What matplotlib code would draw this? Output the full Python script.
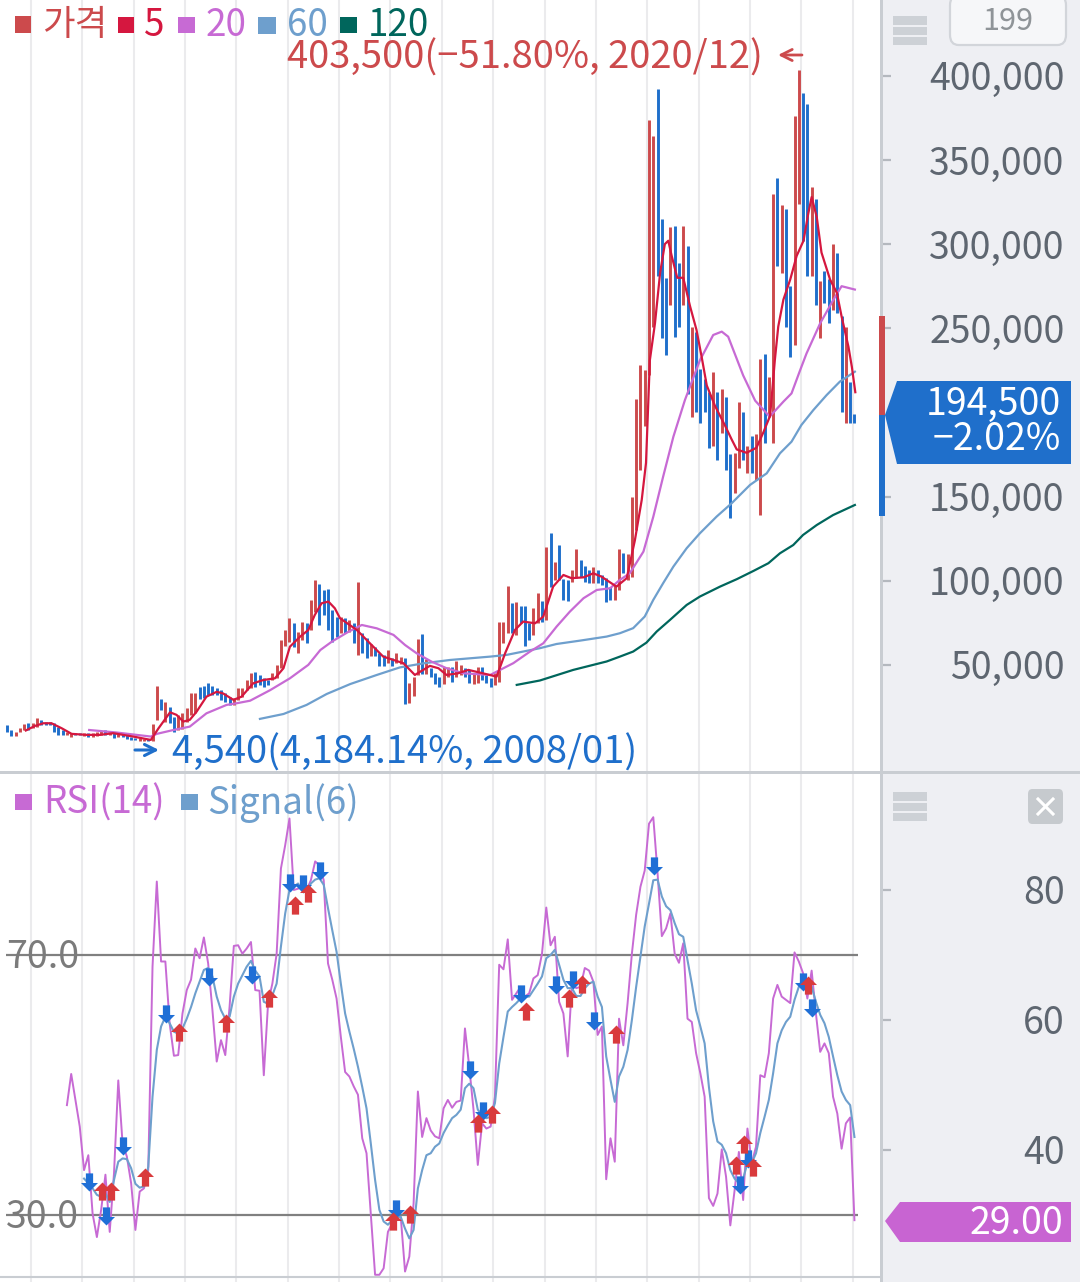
import matplotlib
matplotlib.use("Agg")
import matplotlib.pyplot as plt
from matplotlib.patches import Rectangle, Polygon, FancyBboxPatch
from matplotlib.path import Path
from matplotlib.ticker import FuncFormatter
from matplotlib.transforms import ScaledTranslation
import numpy as np

plt.rcParams['font.family'] = ['Noto Sans CJK KR', 'DejaVu Sans']

W, H = 1080, 1282

# monthly candles, thousand won
highs = [14.3,11,10.3,12.3,14.9,15.3,15.7,18.3,17.3,16.3,
         16.3,15.7,13.3,11,10.3,9.8,9.8,9.4,9.4,9.4,
         9.8,10.3,10.7,11,9.8,9.4,9.4,9.4,8.4,7.4,
         6.8,6.8,6.2,6.2,14.7,37.5,30,28.2,25.2,19.3,
         20.3,21.2,24.2,33.1,33.5,36.7,37.5,39,37.5,36,
         35,33.1,31.1,30.2,36,36,41,45,46,44,
         42,41,45,50,64.8,71,77.7,74.7,69.7,75.7,
         74.7,88.6,100.4,98,94.5,95,82.6,78.7,78.7,77.7,
         76.7,74.7,99,68.8,65.8,62.4,60.4,56.9,55.9,58.9,
         53.9,57.3,54.9,53.9,39,43,65.2,68.2,53.3,48,
         45.4,43,49,49,49,52,50,48,47,45,
         48.6,48.6,44,42,45,75.7,75.7,96.9,86.6,87.6,
         85,85,74.7,83.6,92.9,88.2,120.3,128.6,111.4,121.3,
         100.9,100.5,106.4,118.7,112.3,108.8,106.4,108.4,106.4,103.4,
         101.5,96.5,97.5,118.7,116.3,116,150,208,228,225,
         374,364,392,315,280,310,311,289,311,299,
         251,248,226,220,212,224,212,214,209,175,
         176,206,200,180,186,187,232,235,221,330,
         339,323,321,275,376,403.5,390,383,334,327,
         278,284,279,300,295,257,251,218,199]
lows = [10.3,7.8,8,10.3,11,11,12.3,13.3,14.3,14.3,
        14.3,10.3,8.4,8.4,8.4,7,8.4,8.2,7.8,7.4,
        7.4,7.8,8.2,8.4,8.2,6.4,7,7.4,6,5.4,
        5.2,5,5,4.8,4.54,17.3,23.2,16.3,15.3,10.3,
        11.3,11.9,16.3,20.3,21.6,29.6,30.2,32.1,32.1,32.1,
        29.2,28.2,26.2,26.2,29.2,30.7,35.1,36,37.1,38.1,
        37.1,38.1,41,42,48,61.2,63.8,60.8,56.9,64.8,
        62.8,70.7,81.6,73.7,79.7,70.7,63.8,66.8,68.8,68.8,
        69.8,62.8,56,56.9,53.9,55.3,55.3,49.4,49.4,51,
        49.4,51,50.6,26.6,27.6,31.2,44,44.6,44.6,42.6,
        38.7,37.1,38.7,43,40,43,44,43,39.5,38.7,
        39,41,39,37.1,38,40,62.8,68.8,68.8,67.8,
        74.7,61.3,64.8,67.8,74.7,75.7,76.7,96.5,100.5,100.5,
        88.6,88,99.5,101.5,102.4,99.5,98.5,98.5,98.5,97.5,
        87.6,88.6,88.6,94.5,104.4,100.5,102,130,166,192,
        222,251,281,244,234,264,245,251,264,211,
        197,200,194,200,179,180,172,188,166,137,
        152,167,172,164,164,160,139,182,197,182,
        287,283,251,233,240,324,302,281,281,264,
        244,265,253,261,259,200,194,194,194]
candle_dir = ("dduuuduudd" "dddduuddud" "uuudududdd" "duuduududd" "uuuuuddddd"
              "ddduuuuudd" "dduuuuuduu" "duudddddud" "ududdudddu" "duuduuudud"
              "dduuduuddu" "uddduuuudu" "ddduududud" "dduudddudd" "dduuduuuuu"
              "uuddduddud" "uddddududd" "uududuuduu" "dudduuddud" "udduddudd")

ma5_x = [4.4,6.5,8.5,10.4,12.8,15.1,18.6,21.7,24.8,29.5,33.6,35.4,38.1,39.6,41.2,42.7,44.3,46.6,49,50.5,
         52.9,54.8,57.5,59.9,62.6,64.6,66.1,68.5,70.4,71.9,73.5,75.1,76.6,77.8,81.7,84.8,87.9,92.6,95.3,98.8,
         100.8,102.7,105.4,107.8,110.5,114.4,116.4,118.7,120.6,123.4,125.3,127.6,130,131.9,134.7,137,138.9,142.4,144.8,146.7,
         148.3,149.3,150.2,151.4,152.6,153.7,154.5,155.3,156.6,158,159.6,161.1,162.3,163.5,165.4,167.8,169.3,170.5,172.8,175.1,
         176.7,178.3,179.4,180.2,181.4,183,184.5,186.1,187.2,188,189.2,190.3,192.3,193.9,195,196.6,197.4,198.2]
ma5_y = [11,13.7,15.3,15.3,12.3,9,8.4,8.4,9.4,7.4,5.4,12.3,21.8,20.3,16.3,17.3,22.2,31.1,34,33,
         29.2,31.1,39,41,42,48,60.8,66.8,70.7,79.6,86.6,87.6,83.6,77.7,70.8,62.8,54.9,51,44,49.4,
         48,44,45,47,45.4,43,57,70.8,75.7,74.7,78.7,96.5,103.4,101.5,102,104.4,102.4,96.5,101.5,124,
         148,170,231,253,283,300,302,293,280,280,263,249,233,216,204,192,184,178,176,179,
         188,198,231,251,267,279,293,302,318,328,316,295,279,271,257,239,227,212]

ma20_x = [19.2,25.6,33.6,35,38.9,42.7,46.6,51.3,53.7,56.8,61.5,66.1,70.4,73.2,75.9,79.8,82.9,86.4,90.3,93,
          95.7,99.2,102.7,106.6,112.9,118.3,122.2,125.3,128.4,131.5,134.7,137.8,140.9,143.2,145.5,148.7,151,153.3,155.7,158.4,
          161.9,165,167,168.5,172,174.8,178.2,181.4,183.3,185.3,186.8,190,193.1,195,198.1]
ma20_y = [11.3,9.8,7.4,9,11.3,13.3,21.2,26.2,27.2,28.7,35,42,50,58.8,63.8,69.7,73.7,71.7,67.8,61.8,
          56.9,51.9,48,45,44,51,57.9,62.8,72.7,81.6,89.6,94.5,95.5,100.5,104.4,117.3,138,161.8,185.6,207.4,
          231,246,248,245,222,207,197.5,206.4,211.3,225,235,253,267,275,273]

ma60_x = [59.1,64.6,70,74.7,80.2,86.4,91.8,97.3,103.5,112.9,116.7,124.5,128.4,133.9,140.1,143.2,146.3,149,151,153.3,
          155.7,158.8,161.9,165.8,169.3,173.6,177.5,180.6,183.3,185.6,188.4,191.5,194.6,198.1]
ma60_y = [17.9,20.8,26.2,32.7,38.6,44,48.5,50.9,52.9,54.9,55.9,59.9,62.4,64.4,66.8,68.8,71.8,78.7,88.6,98.5,
          108.4,119.3,128.2,138.1,146,156.9,163.8,175.7,182.6,192.5,201.4,210.3,218.3,224.2]

ma120_x = [119.1,124.5,132.3,140.1,143.2,146.3,149.4,151.8,154.9,158.8,161.9,166.6,170.5,174.4,177.9,180.6,183.7,186,189.2,193,198.1]
ma120_y = [38.1,40.7,47,52,54.9,57.9,63.2,69.8,76.7,85.6,90.6,96.5,100.9,105.8,110.4,116.3,121.2,127.2,133.1,139,145]

# RSI(14) from candle 14, signal(6) from candle 18
rsi = [46.9,51.7,47.7,43.6,36.9,39.2,30.2,26.6,30.8,36.2,27.4,36.4,50.7,41,39,34.9,27.7,33.6,34.1,36.9,
       68.2,81.3,69,69,59.5,54.5,54.6,61,64.6,66.2,71,69.5,72.7,68.7,61.5,53.6,56.9,54.6,62,71.4,
       71.5,70.2,71,72,64.6,64.5,51.5,62.6,65.6,70.2,83.3,86.9,91,80,80.2,80.5,80,81.5,84.4,83.8,
       81.5,68.7,66.2,63.3,57.4,52,51.3,49.8,48.5,41.8,39.5,30.2,20.8,20.8,21.8,27.4,28.7,29.7,29.7,21.3,
       23.6,31.8,49,42,44.9,43,42.1,41.8,46.4,47.7,46.5,47.4,47.6,58.7,52.8,46.2,37.7,44.1,43.3,43.6,
       48.2,68.5,67.8,72.4,63.1,64.1,65.1,63.6,64.1,66.4,66.9,70.2,77.3,71.5,72.8,62.8,61,54.4,65.6,64.9,
       65.1,68,67.6,65.9,57.7,59,35.5,41.8,38.2,60.2,56.1,62.6,70.2,76.2,80.5,83,90.2,91.2,82.6,72.9,
       74.1,76.4,70.2,68.8,71.8,60.2,59.7,54.9,51.8,48.2,32.6,31.4,33.3,40.1,35.9,28.4,33.8,39.7,32.3,43.3,
       38,40.5,51.5,51.2,54.9,63.3,65.4,63.6,63.1,62.6,70.4,69,67.2,63.3,67.6,61,55.1,56.4,54.9,48.2,
       45.6,40.2,44.1,45,29.2]
signal = [35.6,34.9,34.1,33.1,32.8,33.3,32,35.4,38.2,38.7,38.6,37.2,34.8,34.2,34.4,37.4,48.2,55.4,59,60.5,
          59.5,58.2,57.9,58.7,60.2,62,64.1,65.9,67.7,68,66.7,63.6,61.5,60.2,60.5,63.6,65.6,66.9,68.2,69.1,
          67.6,66.7,62.8,62.5,63.8,65.6,71.3,76.4,80,80.5,81,80,79.7,81,81.6,81.8,80.8,77.2,73.8,70.5,
          65.6,61,58.2,55.6,52.8,49.7,46.4,41,35.4,30.8,29,28.5,29.2,29.7,29.7,27.9,26.4,27.7,34.1,36.9,
          39.2,39.5,40.5,41,42.6,43.8,44.9,45.4,46.2,49.5,50.2,49.5,46.2,45.4,44.9,45.1,47.2,53.3,57.4,61.3,
          62,62.6,63.3,63.6,63.6,64.6,65.6,66.7,69.5,70,70.8,68.5,66.2,64.9,64.9,63.7,63.7,64.9,65.6,65.9,
          63.6,62,54.4,50.8,47.4,51.3,52.8,55.4,60,65.1,69.7,74.4,77.9,81.5,81.6,79,77.5,76.9,74.9,73.2,
          72.8,69.2,65.6,61.5,59,56.4,49.7,44.4,41.3,40.8,39.5,36.9,35.6,34.9,35.6,38,38,39.5,42.6,45.1,
          47.7,51.8,56.4,58.4,59.7,60.5,63.1,65.1,66.4,66.2,65.1,62.8,60.8,59.5,57.4,54.4,51.5,49,47.7,46.9,42]

# arrow signals on the RSI panel: candle position, tip value
sell_x = [19.2,23.1,27.2,37.1,47.1,57.2,66.1,69.1,73.1,91,108.2,111.1,120.2,128.2,132.2,137.1,151.2,171.3,173.2,186,188.2]
sell_y = [33.7,28.4,39.2,59.5,65.3,65.5,79.7,79.5,81.6,29.6,50.9,44.6,62.6,64,64.7,58.5,82.3,33.2,37.2,64.5,60.5]
buy_x = [22.1,24.2,32.2,40.2,51.1,61.2,67.3,70.3,90.1,94.1,110.1,113.3,121.3,131.3,134.4,142.3,170.3,172.2,174.2,187.1]
buy_y = [35.1,35.1,37.2,59.6,60.9,64.8,79,80.9,30.5,31.5,45.6,46.9,62.7,64.7,66.9,59.2,39,42.3,38.7,66.7]

grid_x = [5.6 + 12 * k for k in range(17)]
price_ticks = [50000,100000,150000,250000,300000,350000,400000]
rsi_ticks = [40,60,80]

RED = '#cc4a4c'
BLUE = '#1f6fcb'
MA5 = '#d5173f'
PINK = '#c76ad4'
SKY = '#6e9fcd'
TEAL = '#00665c'
GUTTER = '#eeeff3'
LABEL = '#5e6670'


def fx(px):
    return px / W


def fy(py):
    return 1 - py / H


def label(px, py, s, color, size=26.5, ha='left'):
    fig.text(fx(px), fy(py + 3), s, color=color, fontsize=size, ha=ha, va='center')


def square(px, py, w, h, color):
    fig.add_artist(Rectangle((fx(px), fy(py + h)), w / W, h / H, transform=fig.transFigure,
                             color=color, lw=0))


def panel_bars(py):
    for dy, h in [(0, 9), (11, 8), (21, 8)]:
        square(893, py + dy, 34, h, '#cdd1d6')


fig = plt.figure(figsize=(W / 100, H / 100), dpi=100, facecolor=GUTTER)
ax = fig.add_axes([0, fy(771), fx(881), 771 / H])
ax2 = fig.add_axes([0, fy(1282), fx(881), (1282 - 773) / H])

xlim = (-7 / 4.28, (881 - 7) / 4.28)

x = np.arange(len(highs))
hi = np.array(highs) * 1000
lo = np.array(lows) * 1000
up = np.array([c == 'u' for c in candle_dir])

ax.vlines(x[up], lo[up], hi[up], color=RED, lw=2.1, capstyle='butt', zorder=3)
ax.vlines(x[~up], lo[~up], hi[~up], color=BLUE, lw=2.1, capstyle='butt', zorder=3)
ax.plot(ma120_x, np.array(ma120_y) * 1000, color=TEAL, lw=1.6, zorder=4)
ax.plot(ma60_x, np.array(ma60_y) * 1000, color=SKY, lw=1.6, zorder=4)
ax.plot(ma20_x, np.array(ma20_y) * 1000, color=PINK, lw=1.6, zorder=4)
ax.plot(ma5_x, np.array(ma5_y) * 1000, color=MA5, lw=1.6, zorder=5)

ax.set_xlim(*xlim)
ax.set_ylim(-13070, 445050)
ax.set_yticks(price_ticks)
ax.yaxis.set_major_formatter(FuncFormatter(lambda v, p: f"{int(v):,}"))

rsi_x = np.arange(14, 14 + len(rsi))
sig_x = np.arange(18, 18 + len(signal))
ax2.plot(rsi_x, rsi, color=PINK, lw=1.4, zorder=3)
ax2.plot(sig_x, signal, color=SKY, lw=1.5, zorder=4)
ax2.hlines([30, 70], -0.25, 198.9, color='#808080', lw=1.6, zorder=2)
ax2.axhline(20.46, color='#c9cdd2', lw=1.5, zorder=2)

down_arrow = Path([(0, 0), (0.47, 0.47), (0.2, 0.47), (0.2, 1), (-0.2, 1), (-0.2, 0.47), (-0.47, 0.47), (0, 0)])
up_arrow = Path([(0, 0), (0.47, -0.47), (0.2, -0.47), (0.2, -1), (-0.2, -1), (-0.2, -0.47), (-0.47, -0.47), (0, 0)])
ax2.scatter(sell_x, sell_y, marker=down_arrow, s=680, color='#1f6fd6', lw=0, zorder=5)
ax2.scatter(buy_x, buy_y, marker=up_arrow, s=680, color='#d93a3c', lw=0, zorder=6)

ax2.set_xlim(*xlim)
ax2.set_ylim(19.69, 98)
ax2.set_yticks(rsi_ticks)

for a in (ax, ax2):
    a.set_xticks(grid_x)
    a.grid(axis='x', color='#ebebed', lw=1.5)
    a.set_axisbelow(True)
    a.yaxis.tick_right()
    a.tick_params(axis='x', length=0, labelbottom=False)
    a.tick_params(axis='y', length=7.2, width=1.6, color='#b4b8be', labelcolor=LABEL,
                  labelsize=27, pad=125)
    for t in a.get_yticklabels():
        t.set_ha('right')
        t.set_va('center')
        # nudge down, the font's box sits high
        t.set_transform(t.get_transform() + ScaledTranslation(0, -0.04, fig.dpi_scale_trans))
    for s in a.spines.values():
        s.set_visible(False)

# panel borders
square(0, 771, 1080, 2.5, '#c9cdd2')
square(880, 0, 2.5, 1282, '#c9cdd2')

# legend row, top panel
square(15, 16, 16, 17, RED)
label(42, 22, '가격', RED, size=25.5)
square(118, 17, 16, 16, MA5)
label(144, 22, '5', MA5)
square(178, 17, 17, 16, PINK)
label(206, 22, '20', PINK)
square(258, 17, 18, 17, SKY)
label(287, 22, '60', SKY)
square(340, 17, 17, 16, TEAL)
label(368, 22, '120', TEAL)

label(287, 55, '403,500(−51.80%, 2020/12)', RED, size=27.5)
label(172, 750, '4,540(4,184.14%, 2008/01)', BLUE, size=27.5)
ax.annotate('', xy=(fx(778), fy(55)), xytext=(fx(802), fy(55)), xycoords='figure fraction', textcoords='figure fraction',
            arrowprops=dict(arrowstyle='->', color=RED, lw=2, mutation_scale=20, shrinkA=0, shrinkB=0), zorder=8)
ax.annotate('', xy=(fx(159), fy(750)), xytext=(fx(135), fy(750)), xycoords='figure fraction', textcoords='figure fraction',
            arrowprops=dict(arrowstyle='->', color=BLUE, lw=2.2, mutation_scale=20, shrinkA=0, shrinkB=0), zorder=8)

# legend row, RSI panel
square(15, 794, 17, 16, PINK)
label(43, 800, 'RSI(14)', PINK)
square(181, 794, 17, 16, SKY)
label(207, 800, 'Signal(6)', SKY)
label(6, 955, '70.0', '#7b7b7b', size=27)
label(6, 1215, '30.0', '#7b7b7b', size=27)

# right strip furniture
panel_bars(16)
panel_bars(792)
fig.add_artist(FancyBboxPatch((fx(950), fy(45)), 116 / W, 50 / H, boxstyle='round,pad=0,rounding_size=0.008',
                              transform=fig.transFigure, fc='#f6f7f9', ec='#d2d5da', lw=1.6))
label(1008, 18, '199', '#8f9498', size=22, ha='center')
fig.add_artist(FancyBboxPatch((fx(1028), fy(824)), 35 / W, 35 / H, boxstyle='round,pad=0,rounding_size=0.004',
                              transform=fig.transFigure, fc='#c6cace', ec='none'))
fig.add_artist(plt.Line2D([fx(1038), fx(1053)], [fy(799), fy(814)], color='white', lw=2.2))
fig.add_artist(plt.Line2D([fx(1038), fx(1053)], [fy(814), fy(799)], color='white', lw=2.2))

# day range bar and current value tags
square(879, 316, 6, 99, RED)
square(879, 415, 6, 101, BLUE)
fig.add_artist(Polygon([(fx(885), fy(415)), (fx(897), fy(381)), (fx(1071), fy(381)), (fx(1071), fy(464)), (fx(897), fy(464))],
                       transform=fig.transFigure, fc=BLUE, ec='none'))
label(1061, 401, '194,500', 'white', size=27, ha='right')
label(1061, 437, '−2.02%', 'white', size=27, ha='right')
fig.add_artist(Polygon([(fx(885), fy(1221)), (fx(900), fy(1202)), (fx(1071), fy(1202)), (fx(1071), fy(1242)), (fx(900), fy(1242))],
                       transform=fig.transFigure, fc='#c864d2', ec='none'))
label(1063, 1221, '29.00', 'white', size=27, ha='right')

fig.savefig('out.png', dpi=100, facecolor=GUTTER)
